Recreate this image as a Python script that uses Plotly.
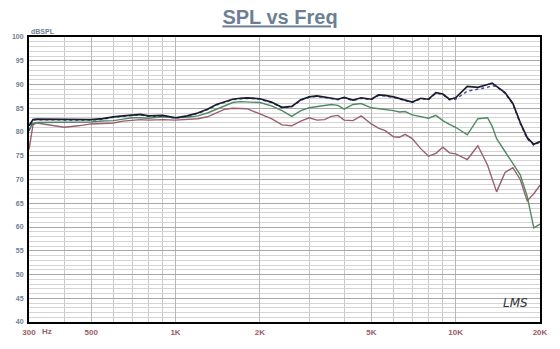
import plotly.graph_objects as go

freq = [300, 310, 320, 350, 400, 450, 500, 550, 600, 650, 700, 750, 800, 900,
        1000, 1100, 1200, 1300, 1400, 1500, 1600, 1700, 1800, 2000, 2200, 2400,
        2600, 2800, 3000, 3200, 3400, 3600, 3800, 4000, 4300, 4600, 5000, 5300,
        5600, 6000, 6300, 6600, 7000, 7500, 8000, 8500, 9000, 9500, 10000,
        11000, 12000, 13000, 13500, 14000, 15000, 16000, 17000, 18000, 19000, 20000]

spl_black = [81.3, 82.6, 82.7, 82.7, 82.7, 82.7, 82.6, 82.8, 83.2, 83.4, 83.5, 83.7, 83.4, 83.5,
             83.0, 83.4, 84.0, 84.8, 85.8, 86.4, 86.9, 87.1, 87.2, 87.0, 86.3, 85.2,
             85.4, 86.8, 87.4, 87.6, 87.4, 87.2, 86.9, 87.3, 86.7, 87.2, 86.9, 87.8,
             87.7, 87.4, 87.0, 86.7, 86.3, 87.1, 86.9, 88.3, 88.0, 86.9, 87.2,
             89.6, 89.4, 90.0, 90.3, 89.6, 88.3, 86.0, 82.0, 78.8, 77.4, 78.0]

spl_navy = [80.2, 82.5, 82.6, 82.6, 82.6, 82.6, 82.5, 82.7, 83.1, 83.3, 83.4, 83.6, 83.3, 83.4,
            82.9, 83.3, 83.9, 84.7, 85.7, 86.3, 86.8, 87.0, 87.1, 86.9, 86.2, 85.1,
            85.3, 86.7, 87.3, 87.5, 87.3, 87.1, 86.8, 87.2, 86.6, 87.1, 86.8, 87.7,
            87.6, 87.3, 86.9, 86.6, 86.2, 87.0, 86.8, 88.2, 87.9, 86.8, 86.9,
            88.6, 89.0, 89.4, 89.8, 89.5, 88.2, 85.9, 81.8, 78.6, 77.2, 77.9]

spl_green = [80.5, 81.8, 82.0, 82.0, 82.0, 82.0, 82.1, 82.3, 82.4, 82.7, 83.0, 83.0, 82.9, 83.2,
             83.0, 83.1, 83.4, 84.0, 84.8, 85.5, 86.2, 86.4, 86.3, 86.2, 85.5, 84.5,
             83.3, 84.5, 85.1, 85.4, 85.6, 85.8, 85.6, 84.8, 85.8, 86.0, 85.1, 84.9,
             84.8, 84.5, 84.2, 84.3, 83.6, 83.2, 82.9, 83.5, 82.4, 81.6, 81.0,
             79.4, 82.8, 83.0, 81.2, 78.6, 76.0, 73.5, 71.0, 66.5, 59.8, 60.6]

spl_mauve = [76.3, 81.5, 81.9, 81.6, 81.0, 81.3, 81.7, 81.8, 81.9, 82.3, 82.5, 82.6, 82.5, 82.6,
             82.5, 82.6, 82.8, 83.2, 84.0, 84.8, 85.0, 85.0, 84.9, 83.8, 82.8, 81.5,
             81.3, 82.3, 83.0, 82.5, 82.6, 83.3, 83.5, 82.5, 82.4, 83.4, 81.7, 80.8,
             80.3, 79.0, 78.9, 79.5, 78.6, 76.5, 74.9, 75.5, 76.8, 75.6, 75.4,
             74.2, 77.1, 73.0, 70.0, 67.4, 71.5, 72.5, 70.0, 65.5, 67.0, 68.8]

x_tickvals = [300, 500, 1000, 2000, 5000, 10000, 20000]
x_ticktext = ["300", "500", "1K", "2K", "5K", "10K", "20K"]
y_tickvals = list(range(40, 101, 5))
y_ticktext = [str(v) for v in y_tickvals]

fig = go.Figure()
fig.add_trace(go.Scatter(x=freq, y=spl_mauve, mode="lines",
                         line=dict(color="#9a5f70", width=1.4), showlegend=False))
fig.add_trace(go.Scatter(x=freq, y=spl_green, mode="lines",
                         line=dict(color="#4f8a62", width=1.4), showlegend=False))
fig.add_trace(go.Scatter(x=freq, y=spl_navy, mode="lines",
                         line=dict(color="#4a4aa0", width=1.5, dash="dot"), showlegend=False))
fig.add_trace(go.Scatter(x=freq, y=spl_black, mode="lines",
                         line=dict(color="#1c1c30", width=1.7), showlegend=False))

fig.update_layout(
    width=560, height=349,
    margin=dict(l=21, r=20, t=37, b=24),
    paper_bgcolor="white", plot_bgcolor="white",
    font=dict(family="Liberation Sans, Arial, sans-serif"),
    title=dict(text="<b><u>SPL vs Freq</u></b>", x=0.5, xanchor="center",
               y=0.95, yanchor="middle",
               font=dict(size=20, color="#6d7f95")),
    xaxis=dict(type="log", range=[2.4771, 4.3010],
               tickvals=x_tickvals, ticktext=["<b>%s</b>" % t for t in x_ticktext],
               tickfont=dict(size=8, color="#a05a68"),
               showgrid=True, gridcolor="#b8b8b8", gridwidth=1,
               minor=dict(dtick="D1", showgrid=True, gridcolor="#c8c8c8", gridwidth=1),
               showline=True, linecolor="black", linewidth=2, mirror=True,
               ticks="", ticklabelstandoff=1, zeroline=False),
    yaxis=dict(range=[40, 100], tickvals=y_tickvals,
               ticktext=["<b>%s</b>" % t for t in y_ticktext],
               tickfont=dict(size=7, color="#6d7f95"),
               showgrid=True, gridcolor="#a8a8a8", gridwidth=1,
               minor=dict(dtick=1, showgrid=True, gridcolor="#d4d4d4", gridwidth=1),
               showline=True, linecolor="black", linewidth=2, mirror=True,
               ticks="", ticklabelstandoff=2, zeroline=False),
    annotations=[
        dict(text="<b>dBSPL</b>", xref="paper", yref="paper", x=0.0, y=1.0,
             xanchor="left", yanchor="bottom", showarrow=False,
             font=dict(size=7, color="#6d7f95")),
        dict(text="<b>Hz</b>", xref="paper", yref="paper", x=0.022, y=-0.012,
             xanchor="left", yanchor="top", showarrow=False,
             font=dict(size=8, color="#a05a68")),
        dict(text="<i>LMS</i>", xref="paper", yref="paper", x=0.98, y=0.035,
             xanchor="right", yanchor="bottom", showarrow=False,
             font=dict(size=12, color="#333333", family="DejaVu Sans")),
    ],
)

fig.write_html("out.html")
